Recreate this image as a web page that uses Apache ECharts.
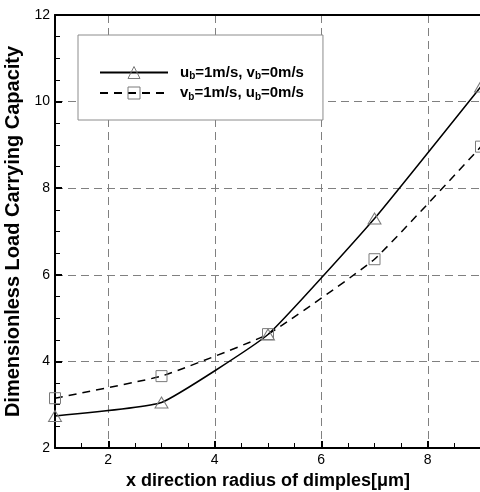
<!DOCTYPE html>
<html>
<head>
<meta charset="utf-8">
<script src="https://cdn.jsdelivr.net/npm/echarts@6/dist/echarts.min.js"></script>
<style>
  html, body { margin: 0; padding: 0; background: #fff; }
  #main { width: 480px; height: 492px; }
</style>
</head>
<body>
<div id="main"></div>
<script>
// x direction radius of dimples (um)
var radiusX = [1, 3, 5, 7, 9];
// load capacity, u_b moving
var loadUb = [2.74, 3.05, 4.62, 7.3, 10.35];
// load capacity, v_b moving
var loadVb = [3.15, 3.66, 4.63, 6.36, 8.96];
var seriesNames = ["ub", "vb"];

var FONT = "'Liberation Sans', Arial, Helvetica, sans-serif";

// legend labels with subscripts
var legendText = {
  ub: "{a0|u}{sub|b}{a|=1m/s, v}{sub|b}{a|=0m/s}",
  vb: "{a0|v}{sub|b}{a|=1m/s, u}{sub|b}{a|=0m/s}"
};

function pairs(xs, ys) {
  return xs.map(function (x, i) { return [x, ys[i]]; });
}

var chart = echarts.init(document.getElementById("main"));
var option = {
  animation: false,
  backgroundColor: "#fff",
  grid: { left: 55, top: 15, right: -1, bottom: 44, outerBoundsMode: "none", containLabel: false },
  legend: {
    orient: "vertical",
    left: 78,
    top: 35,
    padding: [30, 19, 18, 21],
    itemGap: 4,
    itemWidth: 68,
    itemHeight: 15,
    backgroundColor: "#fff",
    borderColor: "#8c8c8c",
    borderWidth: 1,
    data: seriesNames,
    itemStyle: { color: "rgba(0,0,0,0)", borderColor: "#7a7a7a", borderWidth: 1 },
    formatter: function (name) { return legendText[name]; },
    textStyle: {
      fontFamily: FONT,
      color: "#000",
      rich: {
        a0: { fontSize: 15, fontWeight: "bold", fontFamily: FONT, color: "#000", lineHeight: 18, padding: [0, 0, 0, 7] },
        a: { fontSize: 15, fontWeight: "bold", fontFamily: FONT, color: "#000", lineHeight: 18 },
        sub: { fontSize: 10, fontWeight: "bold", fontFamily: FONT, color: "#000", lineHeight: 10, verticalAlign: "bottom" }
      }
    }
  },
  xAxis: [
    {
      type: "value",
      min: 1,
      max: 9,
      splitNumber: 4,
      name: "x direction radius of dimples[\u03bcm]",
      nameLocation: "middle",
      nameGap: 23,
      nameTextStyle: { fontFamily: FONT, fontSize: 18, fontWeight: "bold", color: "#000" },
      axisLine: { show: true, lineStyle: { color: "#000", width: 2 } },
      axisTick: { show: true, inside: true, length: 7, lineStyle: { color: "#000", width: 2 } },
      minorTick: { show: true, splitNumber: 4, length: 5, lineStyle: { color: "#000", width: 1 } },
      axisLabel: { showMinLabel: false, showMaxLabel: false, margin: 5, fontFamily: FONT, fontSize: 14, color: "#000" },
      splitLine: { show: true, lineStyle: { color: "#808080", width: 1, type: [8, 5] } }
    },
    {
      type: "value",
      position: "top",
      min: 1,
      max: 9,
      axisLine: { show: true, onZero: false, lineStyle: { color: "#000", width: 2 } },
      axisTick: { show: false },
      axisLabel: { show: false },
      splitLine: { show: false }
    }
  ],
  yAxis: {
    type: "value",
    min: 2,
    max: 12,
    interval: 2,
    name: "Dimensionless Load Carrying Capacity",
    nameLocation: "middle",
    nameGap: 26,
    nameTextStyle: { fontFamily: FONT, fontSize: 20, fontWeight: "bold", color: "#000" },
    axisLine: { show: true, lineStyle: { color: "#000", width: 2 } },
    axisTick: { show: true, inside: true, length: 7, lineStyle: { color: "#000", width: 2 } },
    minorTick: { show: true, splitNumber: 4, length: 5, lineStyle: { color: "#000", width: 1 } },
    axisLabel: { margin: 5, fontFamily: FONT, fontSize: 14, color: "#000" },
    splitLine: { show: true, lineStyle: { color: "#808080", width: 1, type: [8, 5] } }
  },
  series: [
    {
      name: seriesNames[0],
      type: "line",
      smooth: 0.12,
      data: pairs(radiusX, loadUb),
      symbol: "triangle",
      symbolSize: [13, 11],
      showAllSymbol: true,
      lineStyle: { color: "#000", width: 1.5, type: "solid" },
      itemStyle: { color: "rgba(0,0,0,0)", borderColor: "#7a7a7a", borderWidth: 1 },
      emphasis: { disabled: true }
    },
    {
      name: seriesNames[1],
      type: "line",
      smooth: 0.12,
      data: pairs(radiusX, loadVb),
      symbol: "rect",
      symbolSize: 11,
      showAllSymbol: true,
      lineStyle: { color: "#000", width: 1.5, type: [8, 6] },
      itemStyle: { color: "rgba(0,0,0,0)", borderColor: "#7a7a7a", borderWidth: 1 },
      emphasis: { disabled: true }
    }
  ]
};
chart.setOption(option);
</script>
</body>
</html>
